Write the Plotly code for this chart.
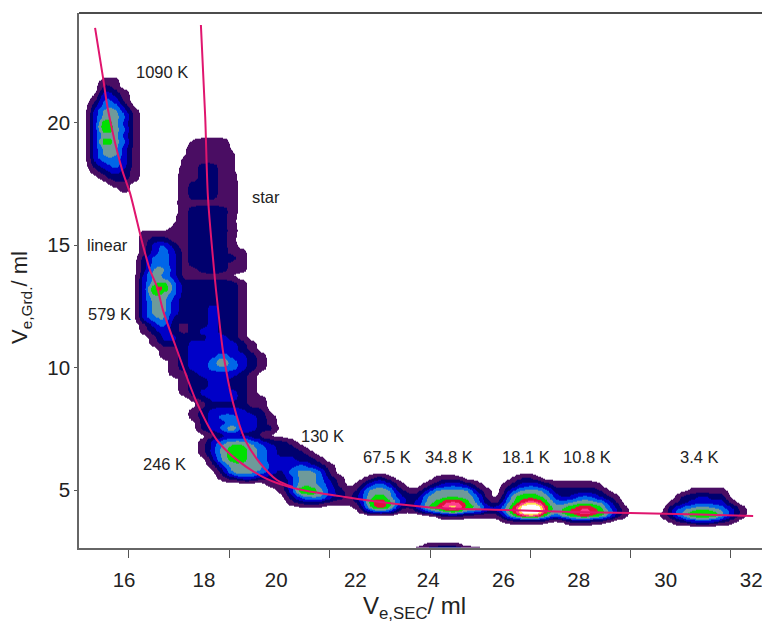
import numpy as np
import plotly.graph_objects as go

# Elution volume grids
SEC_VOLUME = [14.75 + 0.25 * i for i in range(72)]
GRD_VOLUME = [22.5 - 0.25 * r for r in range(81)]

# Detector intensity class per row: row -> [(first column, digits)]
# hex digits are classes; p and q are the faint fringe (0.3 and 0.7)
FRINGE = {"p": 0.3, "q": 0.7}
INTENSITY = {
    3: [(3, "11")],
    4: [(3, "21")],
    5: [(3, "321")],
    6: [(2, "1431")],
    7: [(2, "2442")],
    8: [(2, "35531")],
    9: [(2, "35541")],
    10: [(2, "37531")],
    11: [(2, "37541")],
    12: [(2, "35531"), (13, "ppp")],
    13: [(2, "37541"), (12, "q111p")],
    14: [(2, "35531"), (11, "p1111p")],
    15: [(2, "35531"), (11, "p1111q")],
    16: [(2, "34431"), (11, "q1111q")],
    17: [(2, "23431"), (11, "q1221q")],
    18: [(2, "12321"), (11, "11221q")],
    19: [(3, "1221"), (11, "112211")],
    20: [(4, "11"), (11, "122211")],
    21: [(5, "1"), (11, "122211")],
    22: [(11, "122211")],
    23: [(10, "p111111")],
    24: [(11, "122221")],
    25: [(10, "p122221")],
    26: [(10, "p12222q")],
    27: [(10, "q122221")],
    28: [(7, "1111"), (11, "122221")],
    29: [(7, "1221"), (11, "12222q")],
    30: [(7, "1342"), (11, "122221")],
    31: [(7, "1343"), (11, "1222211")],
    32: [(7, "2443"), (11, "1222221")],
    33: [(7, "2443"), (11, "1222211")],
    34: [(7, "2553"), (11, "1122211")],
    35: [(7, "3543"), (11, "11111p")],
    36: [(7, "3564"), (11, "2222221")],
    37: [(7, "3774"), (11, "2222221")],
    38: [(7, "3654"), (11, "2222221")],
    39: [(7, "3553"), (11, "2222221")],
    40: [(7, "3553"), (11, "2223221")],
    41: [(7, "3553"), (11, "2223221")],
    42: [(7, "3452"), (11, "2223221")],
    43: [(7, "1342"), (11, "1223221")],
    44: [(7, "1232"), (11, "1233221")],
    45: [(8, "1332223321")],
    46: [(8, "12223333321")],
    47: [(9, "1123333321")],
    48: [(9, "11233343321")],
    49: [(10, "1233464321")],
    50: [(10, "1233444321")],
    51: [(10, "112333321")],
    52: [(11, "12233221")],
    53: [(11, "12233221")],
    54: [(11, "12333321")],
    55: [(12, "12333211")],
    56: [(13, "1222211")],
    57: [(12, "12333322")],
    58: [(12, "123443321")],
    59: [(13, "23343321")],
    60: [(13, "23463322")],
    61: [(14, "122221")],
    62: [(13, "1345543221")],
    63: [(13, "13566543221")],
    64: [(13, "135665432221")],
    65: [(14, "256654333221")],
    66: [(14, "1355553334321")],
    67: [(15, "255543245541")],
    68: [(15, "1233222355421"), (30, "121"), (37, "111"), (45, "121")],
    69: [(20, "11355431"), (29, "13431"), (36, "123321"), (44, "1233211111")],
    70: [(21, "1377532125552113555521024554222221"), (63, "1111")],
    71: [(22, "2455321356532255555410366653234321"), (62, "22322")],
    72: [(22, "1222111268642356886421468864455542"), (61, "1233331")],
    73: [(29, "15762136799663358dd756787531"), (61, "34555431")],
    74: [(37, "12211114799646787631"), (60, "135777531")],
    75: [(44, "11111"), (50, "12211"), (61, "1233321")],
    79: [(36, "1111")],
    80: [(34, "123454321")],
}

# Calibration curves
LINEAR_SEC = [15.26, 15.46, 15.59, 15.95, 16.15, 16.46, 16.66, 16.84, 16.99, 17.35, 17.86, 18.37,
              18.88, 19.55, 20.06, 20.67, 21.51, 22.53, 24.06, 25.77, 27.45, 28.91, 30.69, 32.05]
LINEAR_GRD = [23.88, 21.88, 20.53, 18.08, 17.14, 15.13, 13.99, 13.30, 12.36, 10.72, 8.56, 7.04,
              6.23, 5.53, 5.20, 4.96, 4.75, 4.51, 4.26, 4.18, 4.10, 4.06, 4.00, 3.94]
STAR_SEC = [17.96, 18.07, 18.14, 18.32, 18.40, 18.53, 18.78, 19.09, 19.47, 19.90, 20.31]
STAR_GRD = [24.00, 20.24, 16.97, 13.58, 12.36, 10.60, 8.56, 7.04, 6.10, 5.41, 5.12]

# Peak and series labels
LABEL_TEXT = ["1090 K", "star", "linear", "579 K", "130 K", "246 K",
              "67.5 K", "34.8 K", "18.1 K", "10.8 K", "3.4 K"]
LABEL_SEC = [16.97, 19.62, 15.57, 15.62, 21.05, 17.02, 22.71, 24.29, 26.25, 27.81, 30.67]
LABEL_GRD = [22.09, 16.97, 15.0, 12.2, 7.2, 6.06, 6.34, 6.34, 6.34, 6.34, 6.34]

# Axis ticks
X_TICK_TEXT = ["16", "18", "20", "22", "24", "26", "28", "30", "32"]
X_TICK_LABEL_AT = [16, 18.04, 19.88, 21.9, 23.76, 25.68, 27.6, 29.82, 32]
X_TICK_MARK_AT = [16.12, 18.68, 21.24, 23.81, 26.36, 28.91, 31.46]
Y_TICK_TEXT = ["5", "10", "15", "20"]
Y_TICK_AT = [5, 10, 15, 20]

LEVEL_COLORS = ["#ffffff", "#4a0d63", "#00006e", "#0000c8", "#0066e8", "#6e9a9a",
                "#00e000", "#e0103c", "#ff3c8c", "#ffe050", "#ffffff"]

z = np.zeros((len(GRD_VOLUME), len(SEC_VOLUME)))
for row, segments in INTENSITY.items():
    for start, digits in segments:
        for k, ch in enumerate(digits):
            z[row, start + k] = FRINGE[ch] if ch in FRINGE else int(ch, 16)

# Refine the read-off grid so that the level boundaries come out rounded
FACTOR = 4
fine = np.repeat(np.repeat(z, FACTOR, axis=0), FACTOR, axis=1)
kernel = np.array([1, 2, 3, 4, 3, 2, 1]) / 16
fine = np.apply_along_axis(lambda a: np.convolve(a, kernel, "same"), 0, fine)
fine = np.apply_along_axis(lambda a: np.convolve(a, kernel, "same"), 1, fine)
offsets = (np.arange(FACTOR) - (FACTOR - 1) / 2) * 0.25 / FACTOR
x_fine = np.concatenate([v + offsets for v in SEC_VOLUME])
y_fine = np.concatenate([v - offsets for v in GRD_VOLUME])

n = len(LEVEL_COLORS)
colorscale = []
for i, c in enumerate(LEVEL_COLORS):
    colorscale.append([i / n, c])
    colorscale.append([(i + 1) / n, c])

fig = go.Figure()
fig.add_trace(go.Heatmap(
    x=x_fine, y=y_fine, z=fine, zsmooth="best",
    zmin=-0.5, zmax=10.5, colorscale=colorscale, showscale=False,
    hoverinfo="skip",
))
for xs, ys in ((LINEAR_SEC, LINEAR_GRD), (STAR_SEC, STAR_GRD)):
    fig.add_trace(go.Scatter(x=xs, y=ys, mode="lines",
                             line=dict(color="#e0156e", width=2, shape="spline", smoothing=0.8),
                             hoverinfo="skip"))

for t, x, y in zip(LABEL_TEXT, LABEL_SEC, LABEL_GRD):
    fig.add_annotation(x=x, y=y, text=t, showarrow=False,
                       font=dict(family="Liberation Sans", size=16.5, color="#222222"))

fig.add_annotation(xref="paper", yref="paper", x=(414 - 79) / 691, y=-(607 - 548) / 535,
                   xanchor="center", yanchor="middle",
                   text="V<sub>e,SEC</sub>/ ml", showarrow=False,
                   font=dict(family="Liberation Sans", size=24, color="#222222"))
fig.add_annotation(xref="paper", yref="paper", x=(21 - 79) / 691, y=(548 - 298) / 535,
                   xanchor="center", yanchor="middle",
                   text="V<sub>e,Grd.</sub>/ ml", showarrow=False, textangle=-90,
                   font=dict(family="Liberation Sans", size=22, color="#222222"))

fig.update_layout(
    width=762, height=613, showlegend=False,
    margin=dict(l=71, r=0, t=5, b=73, autoexpand=False),
    paper_bgcolor="white", plot_bgcolor="white",
    font=dict(family="Liberation Sans", color="#222222"),
    xaxis=dict(
        range=[14.85, 32.48], showgrid=False, zeroline=False,
        showline=True, linecolor="#666666", linewidth=1.5,
        tickmode="array", tickvals=X_TICK_LABEL_AT, ticktext=X_TICK_TEXT,
        ticks="", tickfont=dict(size=20.5), ticklabelstandoff=13,
        minor=dict(tickmode="array", tickvals=X_TICK_MARK_AT, ticks="outside",
                   ticklen=8, tickcolor="#555555", tickwidth=1, showgrid=False),
    ),
    yaxis=dict(
        range=[2.63, 24.49], showgrid=False, zeroline=False,
        showline=True, linecolor="#666666", linewidth=1.5,
        tickmode="array", tickvals=Y_TICK_AT, ticktext=Y_TICK_TEXT,
        ticks="outside", ticklen=3, tickcolor="#555555", tickfont=dict(size=20.5),
    ),
    shapes=[dict(type="line", xref="paper", yref="paper", x0=0, x1=1, y0=1, y1=1,
                 line=dict(color="#111111", width=1.5))],
)
fig.write_html("out.html")
